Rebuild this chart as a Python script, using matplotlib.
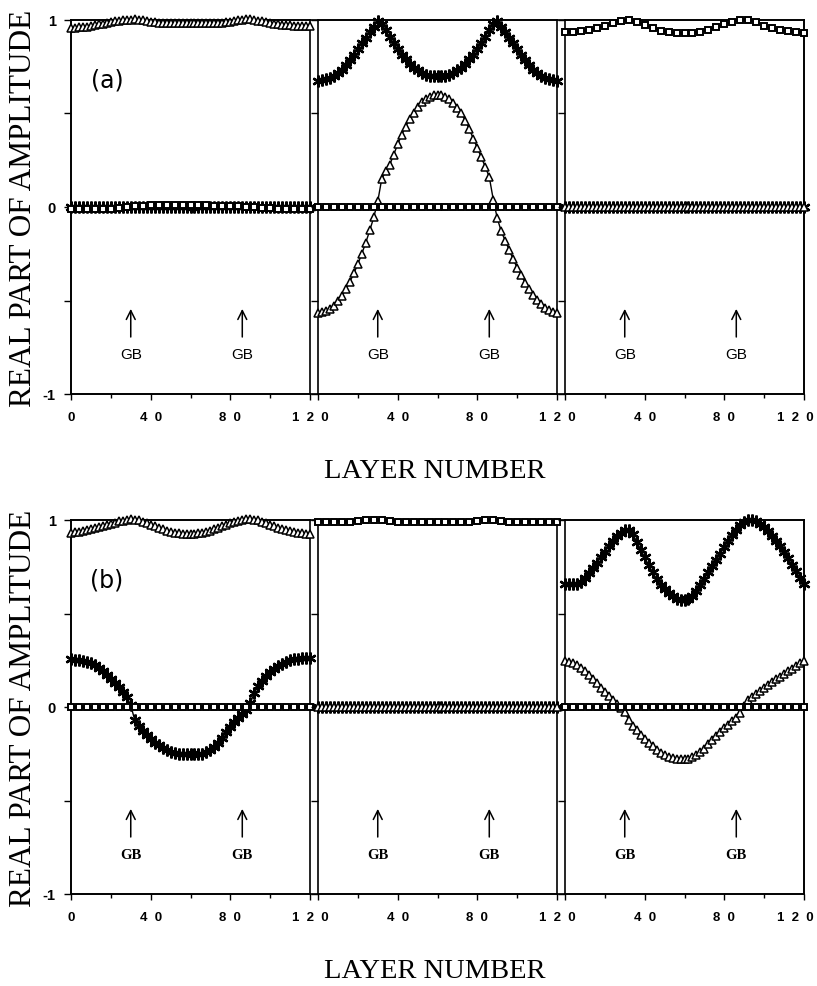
import matplotlib.pyplot as plt
from matplotlib.transforms import ScaledTranslation
import numpy as np

# layer numbers: triangles / stars every 2nd layer, squares every 4th
layers = np.arange(0, 121, 2)
layers_sq = np.arange(0, 121, 4)
gb_layers = [30, 86]

# ---------------- (a) ----------------
a1_tri = [0.955, 0.957, 0.960, 0.962, 0.965, 0.968, 0.972, 0.976, 0.980, 0.984,
          0.988, 0.992, 0.995, 0.998, 1.000, 1.002, 1.003, 1.002, 0.998, 0.994,
          0.990, 0.988, 0.986, 0.985, 0.985, 0.985, 0.985, 0.985, 0.985, 0.985,
          0.985, 0.985, 0.985, 0.985, 0.985, 0.985, 0.985, 0.985, 0.985, 0.987,
          0.990, 0.994, 0.998, 1.000, 1.003, 1.003, 1.000, 0.996, 0.992, 0.988,
          0.984, 0.980, 0.977, 0.975, 0.973, 0.971, 0.970, 0.969, 0.968, 0.967, 0.966]
a1_ast = [0.0] * 61
a1_sq = [-0.012, -0.012, -0.012, -0.012, -0.012, -0.010, -0.006, 0.000, 0.005, 0.008,
         0.010, 0.010, 0.010, 0.010, 0.010, 0.010, 0.010, 0.010, 0.008, 0.008,
         0.006, 0.004, 0.002, 0.000, -0.004, -0.008, -0.010, -0.012, -0.012, -0.012,
         -0.012]

a2_tri = [-0.565, -0.562, -0.555, -0.545, -0.530, -0.505, -0.475, -0.440, -0.400, -0.355,
          -0.305, -0.250, -0.190, -0.125, -0.055, 0.030, 0.150, 0.190, 0.225, 0.280,
          0.335, 0.385, 0.430, 0.470, 0.505, 0.535, 0.560, 0.578, 0.590, 0.597,
          0.600, 0.597, 0.590, 0.575, 0.555, 0.530, 0.500, 0.460, 0.415, 0.365,
          0.315, 0.265, 0.215, 0.160, 0.040, -0.060, -0.130, -0.180, -0.230, -0.280,
          -0.325, -0.365, -0.405, -0.440, -0.470, -0.495, -0.520, -0.540, -0.553, -0.560, -0.565]
a2_ast = [0.675, 0.677, 0.682, 0.690, 0.700, 0.715, 0.735, 0.760, 0.785, 0.815,
          0.845, 0.875, 0.905, 0.935, 0.965, 0.995, 0.980, 0.945, 0.910, 0.875,
          0.845, 0.815, 0.790, 0.765, 0.745, 0.730, 0.718, 0.708, 0.702, 0.700,
          0.700, 0.700, 0.702, 0.708, 0.718, 0.730, 0.745, 0.765, 0.790, 0.815,
          0.845, 0.875, 0.910, 0.945, 0.980, 0.995, 0.965, 0.935, 0.905, 0.875,
          0.845, 0.815, 0.785, 0.760, 0.735, 0.715, 0.700, 0.690, 0.682, 0.677, 0.675]
a2_sq = [0.0] * 31

a3_tri = [0.0] * 61
a3_ast = [0.0] * 61
a3_sq = [0.934, 0.936, 0.940, 0.945, 0.955, 0.970, 0.985, 0.997, 1.000, 0.990,
         0.975, 0.958, 0.943, 0.935, 0.932, 0.930, 0.932, 0.938, 0.947, 0.962,
         0.978, 0.990, 0.998, 1.000, 0.990, 0.970, 0.955, 0.947, 0.942, 0.937,
         0.932]

# ---------------- (b) ----------------
b1_tri = [0.932, 0.934, 0.937, 0.941, 0.946, 0.951, 0.956, 0.962, 0.968, 0.974,
          0.980, 0.986, 0.992, 0.997, 1.000, 1.003, 1.002, 0.998, 0.990, 0.982,
          0.974, 0.966, 0.958, 0.950, 0.943, 0.937, 0.932, 0.928, 0.925, 0.924,
          0.924, 0.925, 0.928, 0.932, 0.937, 0.943, 0.950, 0.958, 0.966, 0.974,
          0.982, 0.990, 0.996, 1.000, 1.003, 1.004, 1.002, 0.998, 0.990, 0.982,
          0.974, 0.966, 0.958, 0.951, 0.945, 0.940, 0.935, 0.931, 0.928, 0.926, 0.925]
b1_ast = [0.255, 0.254, 0.252, 0.248, 0.242, 0.234, 0.224, 0.210, 0.193, 0.173,
          0.150, 0.128, 0.105, 0.082, 0.055, 0.010, -0.070, -0.100, -0.128, -0.152,
          -0.172, -0.190, -0.205, -0.218, -0.230, -0.240, -0.246, -0.250, -0.252, -0.253,
          -0.254, -0.254, -0.253, -0.250, -0.243, -0.232, -0.215, -0.192, -0.165, -0.135,
          -0.105, -0.080, -0.060, -0.040, -0.015, 0.020, 0.075, 0.110, 0.140, 0.165,
          0.187, 0.205, 0.220, 0.232, 0.242, 0.250, 0.255, 0.258, 0.260, 0.262, 0.263]
b1_sq = [0.0] * 31

b2_tri = [0.0] * 61
b2_ast = [0.0] * 61
b2_sq = [0.990, 0.990, 0.990, 0.990, 0.990, 0.993, 0.998, 1.000, 1.000, 0.997,
         0.990, 0.990, 0.990, 0.990, 0.990, 0.990, 0.990, 0.990, 0.990, 0.990,
         0.995, 1.000, 1.000, 0.997, 0.990, 0.990, 0.990, 0.990, 0.990, 0.990,
         0.990]

b3_tri = [0.246, 0.243, 0.236, 0.224, 0.208, 0.190, 0.170, 0.148, 0.126, 0.104,
          0.080, 0.058, 0.036, 0.015, -0.005, -0.028, -0.070, -0.100, -0.125, -0.148,
          -0.170, -0.190, -0.210, -0.228, -0.245, -0.258, -0.268, -0.275, -0.279, -0.280,
          -0.280, -0.277, -0.270, -0.258, -0.243, -0.224, -0.200, -0.178, -0.155, -0.133,
          -0.112, -0.094, -0.077, -0.060, -0.030, 0.005, 0.035, 0.055, 0.072, 0.088,
          0.103, 0.118, 0.133, 0.148, 0.162, 0.176, 0.190, 0.205, 0.219, 0.233, 0.246]
b3_ast = [0.657, 0.656, 0.656, 0.658, 0.670, 0.690, 0.715, 0.742, 0.770, 0.800,
          0.830, 0.860, 0.888, 0.912, 0.932, 0.946, 0.948, 0.925, 0.885, 0.842,
          0.800, 0.760, 0.720, 0.685, 0.655, 0.630, 0.610, 0.593, 0.580, 0.572,
          0.570, 0.578, 0.595, 0.620, 0.650, 0.685, 0.720, 0.752, 0.786, 0.820,
          0.855, 0.888, 0.920, 0.948, 0.975, 0.990, 0.998, 1.000, 0.993, 0.978,
          0.960, 0.940, 0.915, 0.890, 0.860, 0.830, 0.795, 0.760, 0.725, 0.690, 0.657]
b3_sq = [0.0] * 31

xtick_vals = [0, 40, 80, 120]
xtick_first = ['0', '4  0', '8  0', '1  2  0']
xtick_rest = ['', '4  0', '8  0', '1  2  0']

groups = [
    ('(a)', 'sans', [(a1_tri, a1_ast, a1_sq), (a2_tri, a2_ast, a2_sq), (a3_tri, a3_ast, a3_sq)]),
    ('(b)', 'serif', [(b1_tri, b1_ast, b1_sq), (b2_tri, b2_ast, b2_sq), (b3_tri, b3_ast, b3_sq)]),
]

W, H = 817, 987
fig = plt.figure(figsize=(W / 100, H / 100), dpi=100)

panel_left = [71, 318, 565]
panel_w = 239
group_top = [21, 521]
group_h = 374

for g, (tag, gbfont, panels) in enumerate(groups):
    y0 = 1 - (group_top[g] + group_h) / H
    hh = group_h / H
    # outer frame joining the three panels
    frame = fig.add_axes([panel_left[0] / W, y0, (panel_left[2] + panel_w - panel_left[0]) / W, hh])
    frame.set_xticks([])
    frame.set_yticks([])
    for s in frame.spines.values():
        s.set_linewidth(1.2)
    for p, (tri, ast, sq) in enumerate(panels):
        ax = fig.add_axes([panel_left[p] / W, y0, panel_w / W, hh])
        ax.patch.set_alpha(0)
        ax.plot(layers, ast, color='black', lw=1.0, marker=(6, 2, 0), ms=8.5,
                mew=1.7, mec='black', clip_on=False, zorder=2)
        ax.plot(layers, tri, color='black', lw=1.0, marker='^', ms=6, mfc='white',
                mec='black', mew=1.1, clip_on=False, zorder=3)
        ax.plot(layers_sq, sq, color='black', lw=1.4, marker='s', ms=5, mfc='white',
                mec='black', mew=1.4, clip_on=False, zorder=4)
        ax.set_xlim(0, 120)
        ax.set_ylim(-1, 1)
        for s in ax.spines.values():
            s.set_linewidth(1.2)
        ax.set_yticks([-1, -0.5, 0, 0.5, 1])
        ax.set_xticks(xtick_vals)
        ax.set_xticks([20, 60, 100], minor=True)
        if p == 0:
            ax.set_yticklabels(['-1', '', '0', '', '1'], fontsize=10.5,
                               family='Liberation Sans', weight='bold')
            ax.set_xticklabels(xtick_first, fontsize=9.5, family='Liberation Sans', weight='bold')
        else:
            ax.set_yticklabels([])
            ax.set_xticklabels(xtick_rest, fontsize=9.5, family='Liberation Sans', weight='bold')
        ax.tick_params(axis='y', direction='out', length=5, width=1, pad=6)
        ax.tick_params(axis='x', which='major', direction='out', length=4, width=1, pad=8)
        ax.tick_params(axis='x', which='minor', direction='out', length=3, width=1)
        if p == 2:
            # keep the last "120" inside the picture
            last = ax.get_xticklabels()[-1]
            last.set_transform(last.get_transform() + ScaledTranslation(-0.09, 0, fig.dpi_scale_trans))
        for gb in gb_layers:
            ax.annotate('', xy=(gb, -0.53), xytext=(gb, -0.71),
                        arrowprops=dict(arrowstyle='->', lw=1.1, color='black', mutation_scale=16))
            if gbfont == 'sans':
                ax.text(gb, -0.785, 'GB', ha='center', va='center', fontsize=11,
                        family='Liberation Sans')
            else:
                ax.text(gb, -0.79, 'GB', ha='center', va='center', fontsize=10.5,
                        family='Liberation Serif', weight='bold')
        if p == 0:
            ax.text(18, 0.68, tag, ha='center', va='center', fontsize=17, family='DejaVu Sans')

    yc = 1 - (group_top[g] + group_h / 2) / H
    fig.text(24 / W, yc, 'REAL PART OF AMPLITUDE', rotation=90, ha='center', va='center',
             fontsize=22.5, family='Liberation Serif')
    fig.text(435 / W, 1 - (471 + 501 * g) / H, 'LAYER NUMBER', ha='center', va='center',
             fontsize=20.5, family='Liberation Serif')

fig.savefig('out.png', dpi=100)
